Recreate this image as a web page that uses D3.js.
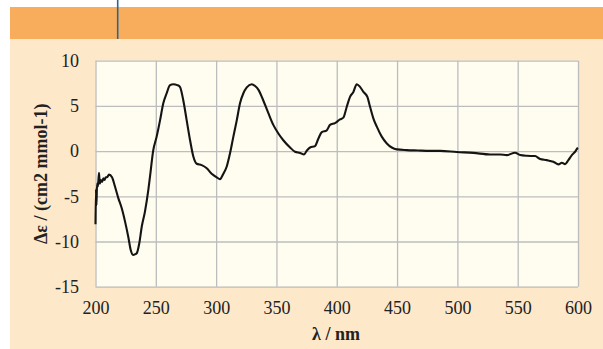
<!DOCTYPE html>
<html>
<head>
<meta charset="utf-8">
<script src="https://cdn.jsdelivr.net/npm/d3@7"></script>
<style>
  html, body { margin: 0; padding: 0; background: #ffffff; }
  svg { display: block; }
</style>
</head>
<body>
<svg id="chart" width="603" height="349"></svg>
<script>
// CD spectrum: wavelength (nm) and molar circular dichroism Δε
const wavelength = [200, 200.4, 200.8, 201.3, 202, 202.9, 203.6, 204.5, 205.5, 206.5, 207.5, 208.5, 209.5, 211.2, 213.7, 216.2,
  218.9, 221.7, 224.5, 227.2, 229.2, 231.3, 233, 234.2, 236.3, 238.3, 241, 243.8, 245.2, 247.9, 250.7, 253.5,
  256.2, 259, 261.8, 264.5, 267.8, 270, 272.8, 275.6, 278.4, 281.1, 283.9, 288, 292.2, 296.3, 300.5, 303.2,
  306, 308.8, 311.5, 314.3, 317.1, 319.8, 322.6, 325.4, 329.5, 332.3, 335, 339.1, 343.3, 347.4, 351.6, 355.7,
  361.3, 365.4, 369.6, 372.9, 375.1, 377.9, 382, 384.8, 387.6, 391.7, 394.4, 398.6, 402.7, 405.5, 408.3, 411,
  413.8, 416.6, 419.3, 422.1, 425.4, 427.6, 430.4, 433.2, 437.3, 441.5, 445.6, 449.8, 458, 467, 477.4, 485.6,
  499.5, 513.3, 527.1, 535.4, 541, 547.8, 552, 557.5, 564.4, 568.6, 574.1, 579.6, 583.8, 586.6, 589.3, 592,
  594.9, 597.6, 599.5, 600];
const deltaEpsilon = [-8.1, -4.2, -6.0, -3.6, -3.9, -2.4, -3.6, -3.2, -3.4, -3.0, -3.2, -2.9, -2.9, -2.6, -2.9, -3.95,
  -5.2, -6.3, -7.8, -9.5, -10.95, -11.5, -11.4, -11.3, -10.2, -8.4, -6.7, -4.3, -2.8, 0.1, 1.6, 3.4,
  5.3, 6.4, 7.3, 7.4, 7.3, 7.1, 5.6, 3.4, 1.2, -0.6, -1.4, -1.55, -1.9, -2.5, -2.9, -3.1,
  -2.5, -1.7, -0.25, 1.6, 3.4, 5.3, 6.4, 7.05, 7.4, 7.2, 6.8, 5.6, 4.2, 2.9, 1.95, 1.2,
  0.4, -0.07, -0.2, -0.37, 0.04, 0.4, 0.55, 1.4, 2.1, 2.3, 2.9, 3.1, 3.5, 3.7, 4.9, 6.0,
  6.55, 7.4, 7.1, 6.55, 6.0, 4.9, 3.6, 2.7, 1.6, 0.85, 0.4, 0.19, 0.11, 0.07, 0.03, 0.03,
  -0.1, -0.2, -0.37, -0.37, -0.44, -0.18, -0.44, -0.52, -0.55, -0.88, -1.0, -1.18, -1.47, -1.29, -1.44, -1.0,
  -0.44, -0.07, 0.3, 0.35];

const xTicks = [200, 250, 300, 350, 400, 450, 500, 550, 600];
const yTicks = [10, 5, 0, -5, -10, -15];
const xTitle = "λ / nm";
const yTitle = "Δε / (cm2 mmol-1)";

const svg = d3.select("#chart");

// page panel: orange header band over a cream body
svg.append("rect").attr("x", 10).attr("y", 7).attr("width", 593).attr("height", 32).attr("fill", "#f7ad5b");
svg.append("rect").attr("x", 10).attr("y", 39).attr("width", 593).attr("height", 310).attr("fill", "#fde8c9");
svg.append("line").attr("x1", 117.7).attr("x2", 117.7).attr("y1", 0).attr("y2", 39)
  .attr("stroke", "#2c6496").attr("stroke-width", 1.6);

const plot = { left: 95.5, right: 578, top: 60.7, bottom: 286.7 };

const x = d3.scaleLinear().domain([200, 600]).range([plot.left, plot.right]);
const y = d3.scaleLinear().domain([-15, 10]).range([plot.bottom, plot.top]);

svg.append("rect")
  .attr("x", plot.left).attr("y", plot.top)
  .attr("width", plot.right - plot.left).attr("height", plot.bottom - plot.top)
  .attr("fill", "#fffdf0");

const font = "'Liberation Serif', 'Times New Roman', serif";
const fontSize = "18px";

// gridlines + tick labels via d3 axes
const xAxis = svg.append("g")
  .attr("transform", `translate(0,${plot.bottom})`)
  .call(d3.axisBottom(x).tickValues(xTicks).tickSize(-(plot.bottom - plot.top)).tickPadding(15).tickFormat(d3.format("d")));
const yAxis = svg.append("g")
  .attr("transform", `translate(${plot.left},0)`)
  .call(d3.axisLeft(y).tickValues(yTicks).tickSize(-(plot.right - plot.left)).tickPadding(16.5).tickFormat(d => d < 0 ? "-" + Math.abs(d) : d));

[xAxis, yAxis].forEach(g => {
  g.select(".domain").remove();
  g.selectAll(".tick line").attr("stroke", "#bdbdbd").attr("stroke-width", 1.3);
  g.selectAll(".tick text")
    .attr("fill", "#222")
    .style("font-family", font)
    .style("font-size", fontSize);
});

// spectrum trace
const line = d3.line()
  .x((d, i) => x(wavelength[i]))
  .y(d => y(d))
  .curve(d3.curveMonotoneX);

svg.append("path")
  .datum(deltaEpsilon)
  .attr("d", line)
  .attr("fill", "none")
  .attr("stroke", "#141414")
  .attr("stroke-width", 2.1)
  .attr("stroke-linejoin", "round");

// axis titles
svg.append("text")
  .attr("x", 336).attr("y", 339.5)
  .attr("text-anchor", "middle")
  .style("font-family", font).style("font-size", fontSize).style("font-weight", "bold")
  .attr("fill", "#222")
  .text(xTitle);

svg.append("text")
  .attr("transform", `translate(47,${(plot.top + plot.bottom) / 2}) rotate(-90)`)
  .attr("text-anchor", "middle")
  .style("font-family", font).style("font-size", fontSize).style("font-weight", "bold")
  .attr("fill", "#222")
  .text(yTitle);
</script>
</body>
</html>
